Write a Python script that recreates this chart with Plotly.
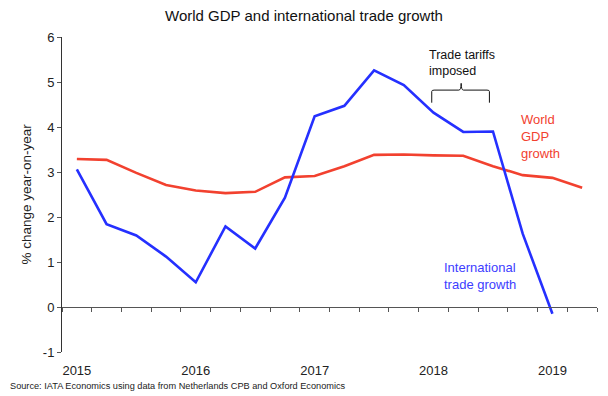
import plotly.graph_objects as go

quarters = ["2015Q1", "2015Q2", "2015Q3", "2015Q4",
            "2016Q1", "2016Q2", "2016Q3", "2016Q4",
            "2017Q1", "2017Q2", "2017Q3", "2017Q4",
            "2018Q1", "2018Q2", "2018Q3", "2018Q4",
            "2019Q1", "2019Q2"]
trade_growth = [3.06, 1.84, 1.59, 1.12, 0.55, 1.79, 1.30, 2.43,
                4.24, 4.47, 5.26, 4.93, 4.32, 3.89, 3.90, 1.63, -0.15]
gdp_growth = [3.29, 3.27, 2.98, 2.71, 2.59, 2.53, 2.56, 2.88,
              2.91, 3.13, 3.38, 3.39, 3.37, 3.36, 3.13, 2.93, 2.87, 2.65]
year_labels = ["2015", "2016", "2017", "2018", "2019"]
y_ticks = [-1, 0, 1, 2, 3, 4, 5, 6]
y_tick_labels = ["-1", "0", "1", "2", "3", "4", "5", "6"]

idx = list(range(len(quarters)))
FONT = "Liberation Sans, Arial, sans-serif"
BLUE = "#2530ff"
RED = "#f2412f"

fig = go.Figure()
fig.add_trace(go.Scatter(x=idx[:len(gdp_growth)], y=gdp_growth, mode="lines",
                         line=dict(color=RED, width=2.6), name="World GDP growth",
                         showlegend=False))
fig.add_trace(go.Scatter(x=idx[:len(trade_growth)], y=trade_growth, mode="lines",
                         line=dict(color=BLUE, width=2.6), name="International trade growth",
                         showlegend=False))
# invisible trace to carry the zero-line axis with quarterly ticks
fig.add_trace(go.Scatter(x=idx, y=[0] * len(idx), xaxis="x2", mode="lines",
                         line=dict(width=0), hoverinfo="skip", showlegend=False))

fig.update_layout(
    width=608, height=396,
    margin=dict(l=62, r=11, t=37, b=44),
    paper_bgcolor="white", plot_bgcolor="white",
    font=dict(family=FONT, color="#222222", size=13),
    title=dict(text="World GDP and international trade growth", x=0.5, xanchor="center",
               y=1 - 16 / 396, yanchor="middle", font=dict(size=15, color="#111111")),
    xaxis=dict(range=[-0.5, 17.5], tickmode="array",
               tickvals=[idx[i] for i in range(0, len(quarters), 4)],
               ticktext=year_labels, showline=False, ticks="", showgrid=False,
               zeroline=False, tickfont=dict(size=13, color="#222222"),
               ticklabelstandoff=9, automargin=False),
    xaxis2=dict(range=[-0.5, 17.5], overlaying="x", anchor="free", position=1 / 7,
                tickmode="array", tickvals=[i - 0.5 for i in range(len(quarters) + 1)],
                ticks="outside", ticklen=4, tickwidth=1, tickcolor="#555555",
                showline=True, linecolor="#555555", linewidth=1,
                showticklabels=False, showgrid=False, zeroline=False, automargin=False),
    yaxis=dict(range=[-1, 6], tickmode="array", tickvals=y_ticks, ticktext=y_tick_labels,
               showline=True, linecolor="#333333", linewidth=1,
               ticks="outside", ticklen=4, tickcolor="#555555", showgrid=False,
               zeroline=False, tickfont=dict(size=13, color="#222222"), automargin=False),
)

fig.add_annotation(text="% change year-on-year", x=(26 - 62) / 535, y=0.5,
                   xref="paper", yref="paper", textangle=-90, showarrow=False,
                   xanchor="center", yanchor="middle", font=dict(size=13.5, color="#222222"))
fig.add_annotation(text="Trade tariffs<br>imposed", x=11.77, y=5.43, xref="x", yref="y",
                   xanchor="left", yanchor="middle", align="left", showarrow=False,
                   font=dict(size=12.5, color="#111111"))
fig.add_annotation(text="World<br>GDP<br>growth", x=14.89, y=3.80, xref="x", yref="y",
                   xanchor="left", yanchor="middle", align="left", showarrow=False,
                   font=dict(size=13, color=RED))
fig.add_annotation(text="International<br>trade growth", x=12.28, y=0.68, xref="x", yref="y",
                   xanchor="left", yanchor="middle", align="left", showarrow=False,
                   font=dict(size=13, color="#3d3dff"))
fig.add_annotation(text="Source: IATA Economics using data from Netherlands CPB and Oxford Economics",
                   x=-54 / 535, y=(352 - 386) / 315, xref="paper", yref="paper",
                   xanchor="left", yanchor="middle", showarrow=False,
                   font=dict(size=9.2, color="#222222"))

# curly bracket over the tariff period
br_left, br_right, br_mid = 11.94, 13.88, 12.93
fig.add_shape(type="path", xref="x", yref="y", line=dict(color="#111111", width=1),
              path=(f"M {br_left},4.54 L {br_left},4.79 Q {br_left},4.82 {br_left + 0.08},4.82 "
                    f"L {br_mid - 0.08},4.82 Q {br_mid},4.82 {br_mid},4.97 "
                    f"Q {br_mid},4.82 {br_mid + 0.08},4.82 L {br_right - 0.08},4.82 "
                    f"Q {br_right},4.82 {br_right},4.79 L {br_right},4.54"))

fig.write_html("out.html", config={"displayModeBar": False},
               post_script="document.body.style.margin='0';document.body.style.padding='0';")
